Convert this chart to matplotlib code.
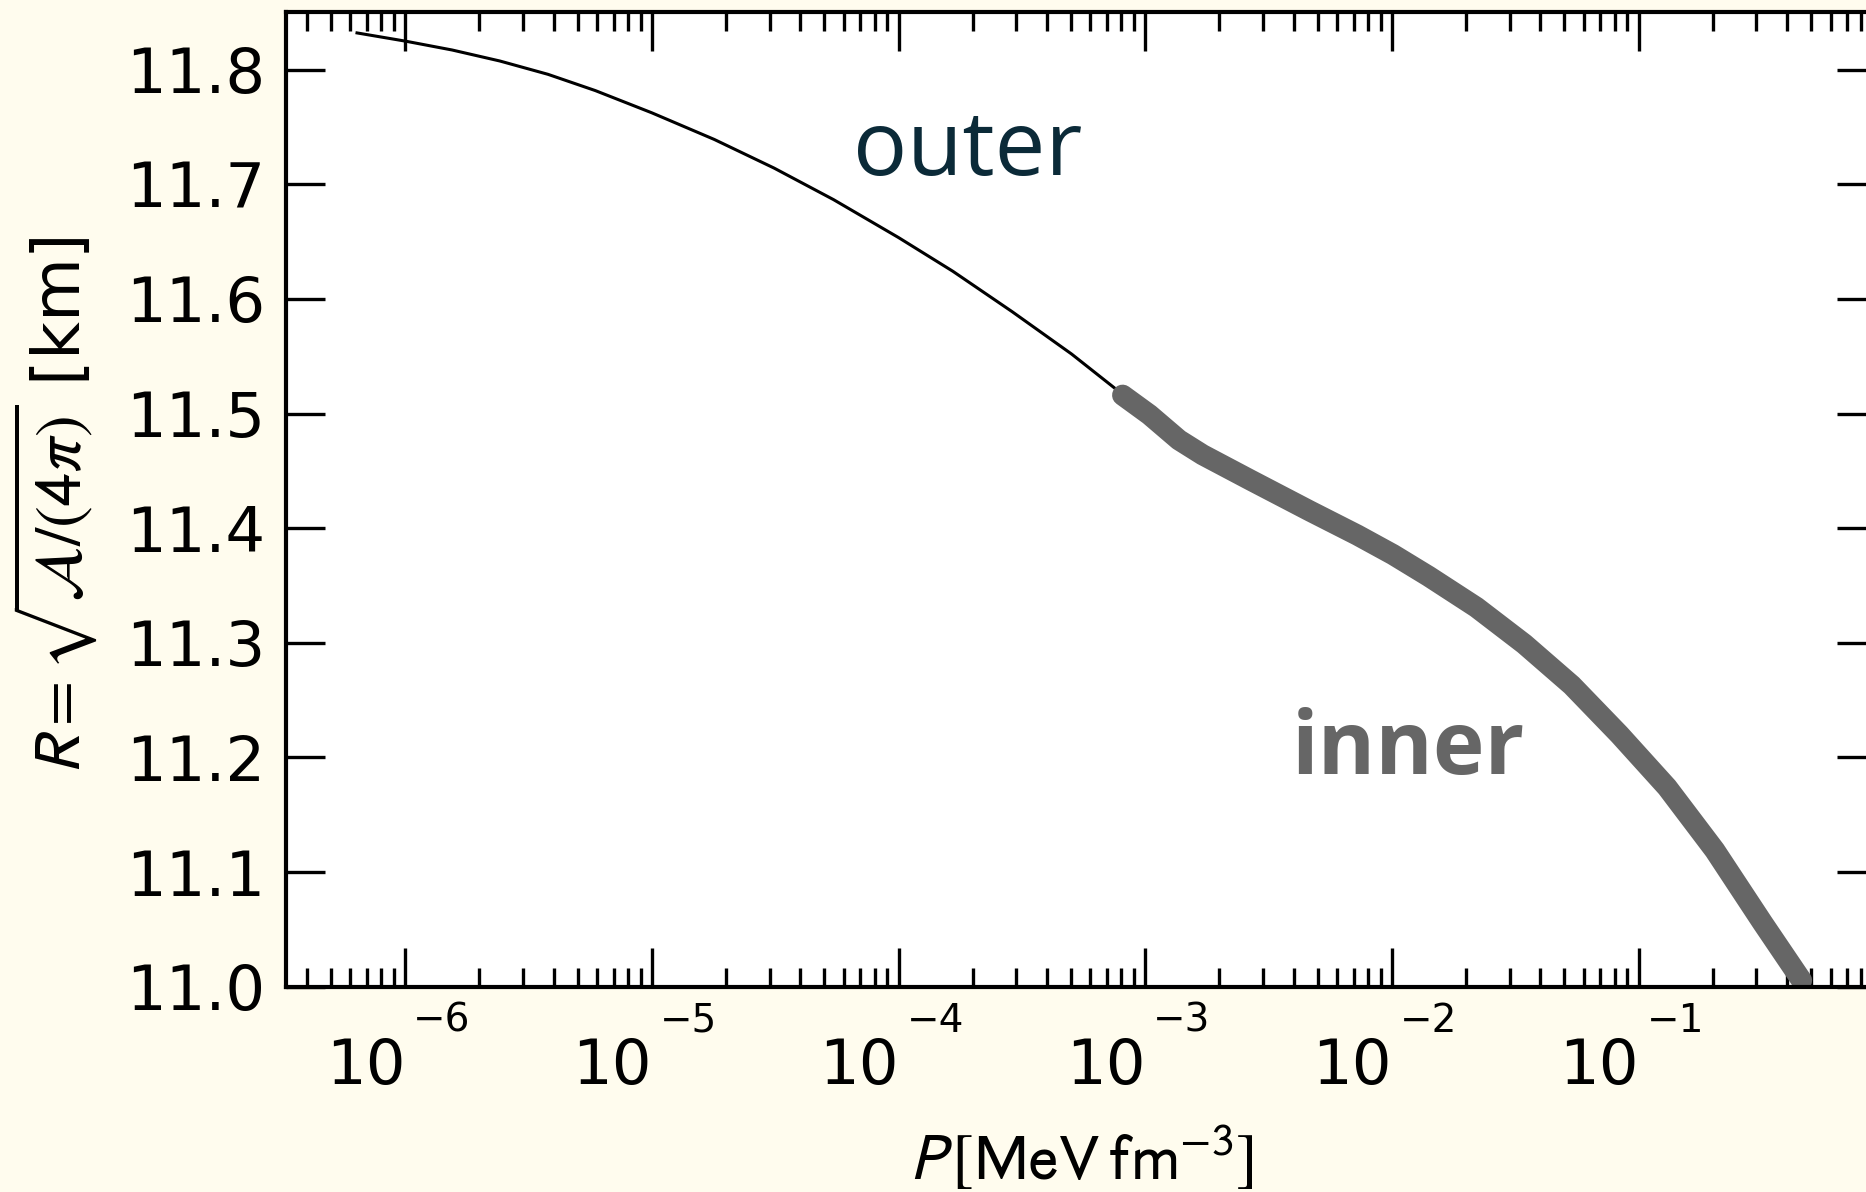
import matplotlib.pyplot as plt
from matplotlib.ticker import LogLocator, NullFormatter, MultipleLocator

plt.rcParams['font.family'] = ['DejaVu Sans']
plt.rcParams['mathtext.fontset'] = 'stixsans'

# crust radius vs pressure
p_outer = [6.38e-7, 1.01e-6, 1.55e-6, 2.42e-6, 3.79e-6, 5.90e-6, 1.0e-5, 1.79e-5,
           3.13e-5, 5.45e-5, 1.0e-4, 1.66e-4, 2.89e-4, 5.03e-4, 7.85e-4]
r_outer = [11.832, 11.8247, 11.8171, 11.8075, 11.7959, 11.7817, 11.7623, 11.7391,
           11.7141, 11.6866, 11.6535, 11.6241, 11.5888, 11.5519, 11.519]

p_inner = [8.1e-4, 1.04e-3, 1.37e-3, 1.71e-3, 2.67e-3, 4.65e-3, 7.24e-3, 1.01e-2,
           1.41e-2, 2.20e-2, 3.44e-2, 5.36e-2, 8.36e-2, 0.1305, 0.2037, 0.3177, 0.458]
r_inner = [11.516, 11.499, 11.477, 11.464, 11.442, 11.415, 11.394, 11.377,
           11.358, 11.331, 11.299, 11.263, 11.220, 11.174, 11.119, 11.056, 11.0055]

decades = [1e-6, 1e-5, 1e-4, 1e-3, 1e-2, 1e-1]
exponents = ['\u22126', '\u22125', '\u22124', '\u22123', '\u22122', '\u22121']

fig = plt.figure(figsize=(9.33, 5.96), dpi=200, facecolor='#fffcee')
ax = fig.add_axes([0.1533, 0.1722, 0.8521, 0.8175])

ax.plot(p_outer, r_outer, color='black', lw=1.1)
ax.plot(p_inner, r_inner, color='#666666', lw=7.6, solid_capstyle='round')

ax.text(1.9e-4, 11.708, 'outer', color='#0b2a38', fontsize=32.5,
        family='Open Sans', ha='center', va='baseline')
ax.text(1.17e-2, 11.186, 'inner', color='#666666', fontsize=31.5,
        family='Open Sans', fontweight='bold', ha='center', va='baseline')

ax.set_xscale('log')
ax.set_xlim(3.29e-7, 0.918)
ax.set_ylim(11.0, 11.85)
ax.set_xticks(decades)
ax.set_xticklabels(['10'] * len(decades), ha='right')
ax.xaxis.set_minor_locator(LogLocator(base=10, subs=range(2, 10), numticks=20))
ax.xaxis.set_minor_formatter(NullFormatter())
ax.yaxis.set_major_locator(MultipleLocator(0.1))
ax.yaxis.set_major_formatter(plt.FormatStrFormatter('%.1f'))

ax.tick_params(which='both', direction='in', top=True, right=True,
               labelsize=22.5, width=1.2)
ax.tick_params(which='major', length=14, pad=7.5)
ax.tick_params(axis='x', which='major', pad=18)
ax.tick_params(which='minor', length=7)
for s in ax.spines.values():
    s.set_linewidth(1.5)

# exponents sit above and right of each "10"
for d, e in zip(decades, exponents):
    ax.annotate(e, xy=(d, 0), xycoords=('data', 'axes fraction'),
                xytext=(2.9, -5.4), textcoords='offset points',
                fontsize=14, ha='left', va='top', annotation_clip=False)

ax.set_xlabel(r'$P\,[\mathrm{MeV\,fm}^{-3}]$', fontsize=23.5, va='top')
ax.xaxis.set_label_coords(0.5, -0.141)
ax.set_ylabel(r'$R = \sqrt{\mathcal{A}/(4\pi)}$ [km]', fontsize=23.6)
ax.yaxis.set_label_coords(-0.117, 0.494)

fig.savefig('out.png', dpi=200, facecolor=fig.get_facecolor())
